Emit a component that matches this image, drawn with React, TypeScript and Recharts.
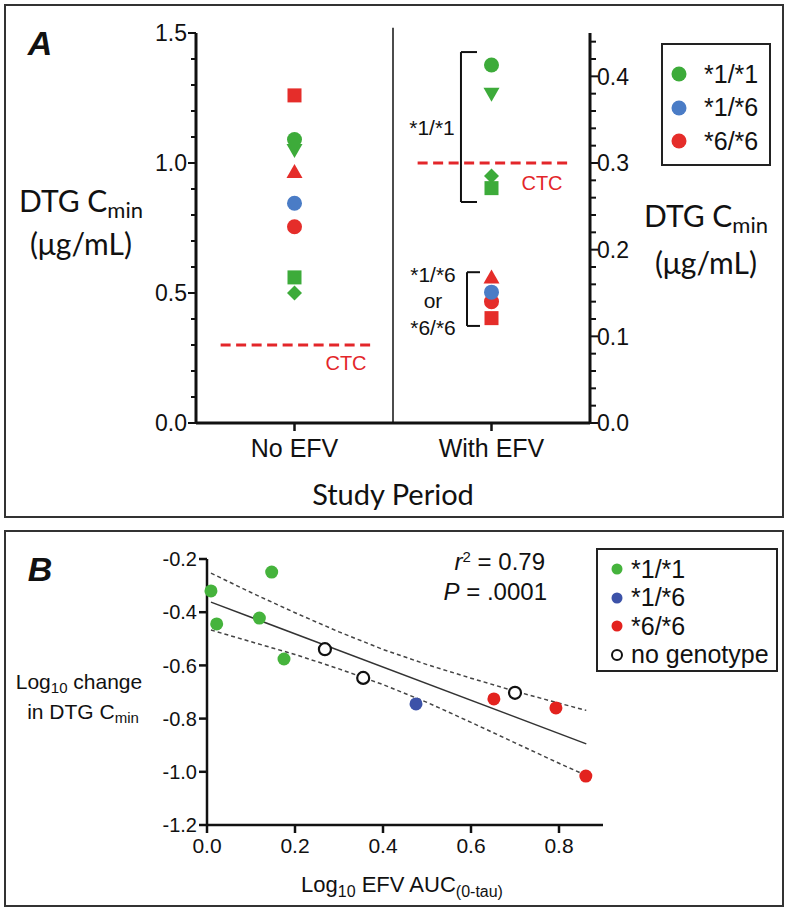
import React from 'react';
import { ScatterChart, Scatter, XAxis, YAxis, ReferenceLine } from 'recharts';

// ---------- Panel A data ----------
const periodLabels = ['No EFV', 'With EFV'];
const periodPositions = [1, 3];
const subjectGenotype = ['*1/*1', '*1/*1', '*1/*1', '*1/*1', '*6/*6', '*6/*6', '*6/*6', '*1/*6'];
const subjectSymbol = ['circle', 'triangleDown', 'diamond', 'square', 'square', 'triangleUp', 'circle', 'circle'];
const cminNoEfv = [1.09, 1.05, 0.5, 0.56, 1.26, 0.965, 0.755, 0.845];
const cminWithEfv = [0.413, 0.38, 0.285, 0.271, 0.121, 0.168, 0.14, 0.151];
const ctcThreshold = 0.3;
const leftTicks = [0, 0.1, 0.2, 0.3, 0.4, 0.5, 0.6, 0.7, 0.8, 0.9, 1.0, 1.1, 1.2, 1.3, 1.4, 1.5];
const rightTicks = [0, 0.02, 0.04, 0.06, 0.08, 0.1, 0.12, 0.14, 0.16, 0.18, 0.2, 0.22, 0.24, 0.26, 0.28, 0.3, 0.32, 0.34, 0.36, 0.38, 0.4, 0.42, 0.44];
const legendAGenotypes = ['*1/*1', '*1/*6', '*6/*6'];

// ---------- Panel B data ----------
const aucG11 = [0.009, 0.022, 0.119, 0.147, 0.175];
const chgG11 = [-0.32, -0.444, -0.422, -0.249, -0.576];
const aucG16 = [0.475];
const chgG16 = [-0.745];
const aucG66 = [0.652, 0.793, 0.861];
const chgG66 = [-0.726, -0.76, -1.016];
const aucNoGeno = [0.268, 0.355, 0.7];
const chgNoGeno = [-0.539, -0.647, -0.703];
const fitX = [0.009, 0.862];
const fitY = [-0.362, -0.895];
const upperBandX = [0.009, 0.1, 0.2, 0.3, 0.4, 0.5, 0.6, 0.7, 0.8, 0.862];
const upperBandY = [-0.253, -0.326, -0.402, -0.474, -0.54, -0.597, -0.648, -0.697, -0.742, -0.769];
const lowerBandX = [0.009, 0.1, 0.2, 0.3, 0.4, 0.5, 0.6, 0.7, 0.8, 0.862];
const lowerBandY = [-0.467, -0.511, -0.559, -0.613, -0.672, -0.739, -0.814, -0.891, -0.968, -1.014];
const bXTicks = [0, 0.2, 0.4, 0.6, 0.8];
const bYTicks = [-1.2, -1.0, -0.8, -0.6, -0.4, -0.2];
const legendBLabels = ['*1/*1', '*1/*6', '*6/*6', 'no genotype'];

// ---------- styles ----------
const COLORS_A: Record<string, string> = { '*1/*1': '#3dab3a', '*1/*6': '#4a7cc6', '*6/*6': '#e52d2a' };
const COLORS_B: Record<string, string> = { '*1/*1': '#45b33c', '*1/*6': '#3c52a8', '*6/*6': '#e3221e' };
const RED = '#e3262a';
const INK = '#111';
const SANS = '"Liberation Sans", Arial, sans-serif';
const HUM = 'Lato, "Open Sans", sans-serif';

const toPts = (xs: number[], ys: number[]) => xs.map((x, i) => ({ x, y: ys[i] }));

const noEfvData = cminNoEfv.map((y, i) => ({ x: periodPositions[0], y, genotype: subjectGenotype[i], symbol: subjectSymbol[i] }));
const withEfvData = cminWithEfv.map((y, i) => ({ x: periodPositions[1], y, genotype: subjectGenotype[i], symbol: subjectSymbol[i] }));

const SubjectMarker = (props: any) => {
  const { cx, cy, payload } = props;
  if (cx == null || cy == null) return <g />;
  const fill = COLORS_A[payload.genotype];
  switch (payload.symbol) {
    case 'square':
      return <rect x={cx - 7} y={cy - 7} width={14} height={14} fill={fill} />;
    case 'triangleUp':
      return <polygon points={`${cx},${cy - 8} ${cx - 8},${cy + 6} ${cx + 8},${cy + 6}`} fill={fill} />;
    case 'triangleDown':
      return <polygon points={`${cx - 8},${cy - 6} ${cx + 8},${cy - 6} ${cx},${cy + 8}`} fill={fill} />;
    case 'diamond':
      return <polygon points={`${cx},${cy - 7.5} ${cx + 7.5},${cy} ${cx},${cy + 7.5} ${cx - 7.5},${cy}`} fill={fill} />;
    default:
      return <circle cx={cx} cy={cy} r={7.5} fill={fill} />;
  }
};

const isMultiple = (v: number, step: number) => Math.abs(v / step - Math.round(v / step)) < 1e-6;

const LeftTickA = (props: any) => {
  const { x, y, payload } = props;
  const v = payload.value as number;
  const ax = x + 10;
  const major = isMultiple(v, 0.5);
  return (
    <g>
      <line x1={ax - (major ? 8 : 5)} x2={ax} y1={y} y2={y} stroke={INK} strokeWidth={2} />
      {major && (
        <text x={ax - 9} y={y} dy="0.36em" textAnchor="end" fontSize={23} fontFamily={SANS} fill={INK}>
          {v.toFixed(1)}
        </text>
      )}
    </g>
  );
};

const RightTickA = (props: any) => {
  const { x, y, payload } = props;
  const v = payload.value as number;
  const ax = x - 9;
  const major = isMultiple(v, 0.1);
  return (
    <g>
      <line x1={ax} x2={ax + (major ? 8 : 6)} y1={y} y2={y} stroke={INK} strokeWidth={2} />
      {major && (
        <text x={ax + 7} y={y} dy="0.36em" textAnchor="start" fontSize={23} fontFamily={SANS} fill={INK}>
          {v.toFixed(1)}
        </text>
      )}
    </g>
  );
};

const NoShape = () => <g />;

const BPoint = (color: string) => (props: any) => {
  const { cx, cy } = props;
  if (cx == null || cy == null) return <g />;
  return <circle cx={cx} cy={cy} r={6.5} fill={color} />;
};
const BOpen = (props: any) => {
  const { cx, cy } = props;
  if (cx == null || cy == null) return <g />;
  return <circle cx={cx} cy={cy} r={6} fill="#fff" stroke={INK} strokeWidth={2.2} />;
};

const abs = (left: number, top: number, extra: React.CSSProperties = {}): React.CSSProperties => ({
  position: 'absolute',
  left,
  top,
  whiteSpace: 'nowrap',
  lineHeight: 1,
  ...extra,
});
const centered = (cx: number, cy: number, extra: React.CSSProperties = {}): React.CSSProperties =>
  abs(cx, cy, { transform: 'translate(-50%, -50%)', ...extra });

const subStyle = (size: number): React.CSSProperties => ({ fontSize: size, verticalAlign: '-0.3em', lineHeight: 1 });

export default function App() {
  return (
    <div style={{ position: 'absolute', left: 0, top: 0, width: 788, height: 912, background: '#fff', overflow: 'hidden', color: INK }}>
      {/* panel borders */}
      <div style={{ position: 'absolute', left: 4, top: 4, width: 776, height: 510, border: '2px solid #333' }} />
      <div style={{ position: 'absolute', left: 4, top: 530, width: 776, height: 373, border: '2px solid #333' }} />

      {/* ---------- Panel A ---------- */}
      <div style={{ position: 'absolute', left: 0, top: 0 }}>
        <ScatterChart width={788} height={520} margin={{ top: 33, right: 138, bottom: 57, left: 136 }}>
          <XAxis
            type="number"
            dataKey="x"
            domain={[0, 4]}
            ticks={periodPositions}
            interval={0}
            height={40}
            tickFormatter={(v: number) => periodLabels[periodPositions.indexOf(v)] ?? ''}
            tick={{ fontSize: 25, fill: INK, fontFamily: SANS }}
            tickSize={8}
            tickMargin={8}
            axisLine={{ stroke: INK, strokeWidth: 3 }}
            tickLine={{ stroke: INK, strokeWidth: 2.5 }}
          />
          <YAxis
            yAxisId="left"
            type="number"
            dataKey="y"
            domain={[0, 1.5]}
            ticks={leftTicks}
            interval={0}
            width={60}
            tickSize={8}
            tickMargin={2}
            tickLine={false}
            tick={<LeftTickA />}
            axisLine={{ stroke: INK, strokeWidth: 3 }}
          />
          <YAxis
            yAxisId="right"
            orientation="right"
            type="number"
            dataKey="y"
            domain={[0, 0.45]}
            ticks={rightTicks}
            interval={0}
            width={60}
            tickSize={8}
            tickMargin={1}
            tickLine={false}
            tick={<RightTickA />}
            axisLine={{ stroke: INK, strokeWidth: 3 }}
          />
          <ReferenceLine
            yAxisId="left"
            segment={[{ x: 2, y: 0 }, { x: 2, y: 1.52 }]}
            ifOverflow="visible"
            stroke={INK}
            strokeWidth={1.5}
          />
          <ReferenceLine
            yAxisId="left"
            segment={[{ x: 0.25, y: ctcThreshold }, { x: 1.8, y: ctcThreshold }]}
            stroke={RED}
            strokeWidth={3}
            strokeDasharray="10 5.5"
          />
          <ReferenceLine
            yAxisId="right"
            segment={[{ x: 2.25, y: ctcThreshold }, { x: 3.8, y: ctcThreshold }]}
            stroke={RED}
            strokeWidth={3}
            strokeDasharray="10 5.5"
          />
          {/* brackets */}
          <ReferenceLine yAxisId="right" segment={[{ x: 2.69, y: 0.255 }, { x: 2.69, y: 0.428 }]} stroke={INK} strokeWidth={2} />
          <ReferenceLine yAxisId="right" segment={[{ x: 2.69, y: 0.428 }, { x: 2.853, y: 0.428 }]} stroke={INK} strokeWidth={2} />
          <ReferenceLine yAxisId="right" segment={[{ x: 2.69, y: 0.255 }, { x: 2.853, y: 0.255 }]} stroke={INK} strokeWidth={2} />
          <ReferenceLine yAxisId="right" segment={[{ x: 2.751, y: 0.112 }, { x: 2.751, y: 0.174 }]} stroke={INK} strokeWidth={2} />
          <ReferenceLine yAxisId="right" segment={[{ x: 2.751, y: 0.174 }, { x: 2.883, y: 0.174 }]} stroke={INK} strokeWidth={2} />
          <ReferenceLine yAxisId="right" segment={[{ x: 2.751, y: 0.112 }, { x: 2.883, y: 0.112 }]} stroke={INK} strokeWidth={2} />
          <Scatter yAxisId="left" data={noEfvData} shape={SubjectMarker} isAnimationActive={false} />
          <Scatter yAxisId="right" data={withEfvData} shape={SubjectMarker} isAnimationActive={false} />
        </ScatterChart>
      </div>

      {/* Panel A text */}
      <div style={centered(40, 43, { fontFamily: SANS, fontWeight: 700, fontStyle: 'italic', fontSize: 34 })}>A</div>
      <div style={centered(81, 203, { fontFamily: HUM, fontSize: 30 })}>
        DTG C<sub style={subStyle(22)}>min</sub>
      </div>
      <div style={centered(81, 243, { fontFamily: HUM, fontSize: 30 })}>(μg/mL)</div>
      <div style={centered(706, 218, { fontFamily: HUM, fontSize: 30 })}>
        DTG C<sub style={subStyle(22)}>min</sub>
      </div>
      <div style={centered(706, 262, { fontFamily: HUM, fontSize: 30 })}>(μg/mL)</div>
      <div style={centered(393, 493, { fontFamily: HUM, fontSize: 29 })}>Study Period</div>
      <div style={centered(346, 363, { fontFamily: SANS, fontSize: 20, color: RED })}>CTC</div>
      <div style={centered(542, 183, { fontFamily: SANS, fontSize: 20, color: RED })}>CTC</div>
      <div style={centered(432, 127, { fontFamily: SANS, fontSize: 21 })}>*1/*1</div>
      <div style={centered(433, 274, { fontFamily: SANS, fontSize: 21 })}>*1/*6</div>
      <div style={centered(433, 300, { fontFamily: SANS, fontSize: 21 })}>or</div>
      <div style={centered(433, 327, { fontFamily: SANS, fontSize: 21 })}>*6/*6</div>

      {/* Legend A */}
      <div style={{ position: 'absolute', left: 661, top: 43, width: 106, height: 119, border: '2px solid #222' }}>
        {legendAGenotypes.map((g, i) => (
          <div key={g} style={abs(0, 17 + i * 33.5, { display: 'flex', alignItems: 'center', height: 24 })}>
            <svg width={40} height={24} style={{ display: 'block' }}>
              <circle cx={16} cy={12} r={7.5} fill={COLORS_A[g]} />
            </svg>
            <span style={{ fontFamily: SANS, fontSize: 25, marginLeft: 1 }}>{g}</span>
          </div>
        ))}
      </div>

      {/* ---------- Panel B ---------- */}
      <div style={{ position: 'absolute', left: 0, top: 520 }}>
        <ScatterChart width={788} height={392} margin={{ top: 39, right: 185, bottom: 47, left: 147 }}>
          <XAxis
            type="number"
            dataKey="x"
            domain={[0, 0.9]}
            ticks={bXTicks}
            interval={0}
            height={40}
            tickFormatter={(v: number) => v.toFixed(1)}
            tick={{ fontSize: 21, fill: INK, fontFamily: SANS }}
            tickSize={8}
            tickMargin={5}
            axisLine={{ stroke: INK, strokeWidth: 2.5 }}
            tickLine={{ stroke: INK, strokeWidth: 2.5 }}
          />
          <YAxis
            type="number"
            dataKey="y"
            domain={[-1.2, -0.2]}
            ticks={bYTicks}
            interval={0}
            width={60}
            tickFormatter={(v: number) => v.toFixed(1)}
            tick={{ fontSize: 20, fill: INK, fontFamily: SANS }}
            tickSize={8}
            tickMargin={2}
            axisLine={{ stroke: INK, strokeWidth: 2.5 }}
            tickLine={{ stroke: INK, strokeWidth: 2.5 }}
          />
          <Scatter data={toPts(upperBandX, upperBandY)} line={{ stroke: '#444', strokeWidth: 1.5, strokeDasharray: '4 3' }} shape={NoShape} isAnimationActive={false} />
          <Scatter data={toPts(lowerBandX, lowerBandY)} line={{ stroke: '#444', strokeWidth: 1.5, strokeDasharray: '4 3' }} shape={NoShape} isAnimationActive={false} />
          <Scatter data={toPts(fitX, fitY)} line={{ stroke: '#333', strokeWidth: 1.5 }} shape={NoShape} isAnimationActive={false} />
          <Scatter data={toPts(aucG11, chgG11)} shape={BPoint(COLORS_B['*1/*1'])} isAnimationActive={false} />
          <Scatter data={toPts(aucNoGeno, chgNoGeno)} shape={BOpen} isAnimationActive={false} />
          <Scatter data={toPts(aucG16, chgG16)} shape={BPoint(COLORS_B['*1/*6'])} isAnimationActive={false} />
          <Scatter data={toPts(aucG66, chgG66)} shape={BPoint(COLORS_B['*6/*6'])} isAnimationActive={false} />
        </ScatterChart>
      </div>

      {/* Panel B text */}
      <div style={centered(40, 569, { fontFamily: SANS, fontWeight: 700, fontStyle: 'italic', fontSize: 34 })}>B</div>
      <div style={centered(79, 683, { fontFamily: SANS, fontSize: 21 })}>
        Log<sub style={subStyle(15)}>10</sub> change
      </div>
      <div style={centered(83, 713, { fontFamily: SANS, fontSize: 21 })}>
        in DTG C<sub style={subStyle(15)}>min</sub>
      </div>
      <div style={centered(402, 887, { fontFamily: SANS, fontSize: 22 })}>
        Log<sub style={subStyle(16)}>10</sub> EFV AUC<sub style={subStyle(16)}>(0-tau)</sub>
      </div>
      <div style={abs(0, 549, { width: 545, textAlign: 'right', fontFamily: SANS, fontSize: 24 })}>
        <i>r</i>
        <sup style={{ fontSize: 15, verticalAlign: '0.55em', lineHeight: 1 }}>2</sup> = 0.79
      </div>
      <div style={abs(0, 580, { width: 547, textAlign: 'right', fontFamily: SANS, fontSize: 24 })}>
        <i>P</i> = .0001
      </div>

      {/* Legend B */}
      <div style={{ position: 'absolute', left: 596, top: 548, width: 178, height: 120, border: '2px solid #222' }}>
        {legendBLabels.map((g, i) => (
          <div key={g} style={abs(0, 7 + i * 28.5, { display: 'flex', alignItems: 'center', height: 24 })}>
            <svg width={32} height={24} style={{ display: 'block' }}>
              {g === 'no genotype' ? (
                <circle cx={19} cy={12} r={5} fill="#fff" stroke={INK} strokeWidth={2} />
              ) : (
                <circle cx={19} cy={12} r={5.5} fill={COLORS_B[g]} />
              )}
            </svg>
            <span style={{ fontFamily: SANS, fontSize: 25, marginLeft: 1 }}>{g}</span>
          </div>
        ))}
      </div>
    </div>
  );
}
